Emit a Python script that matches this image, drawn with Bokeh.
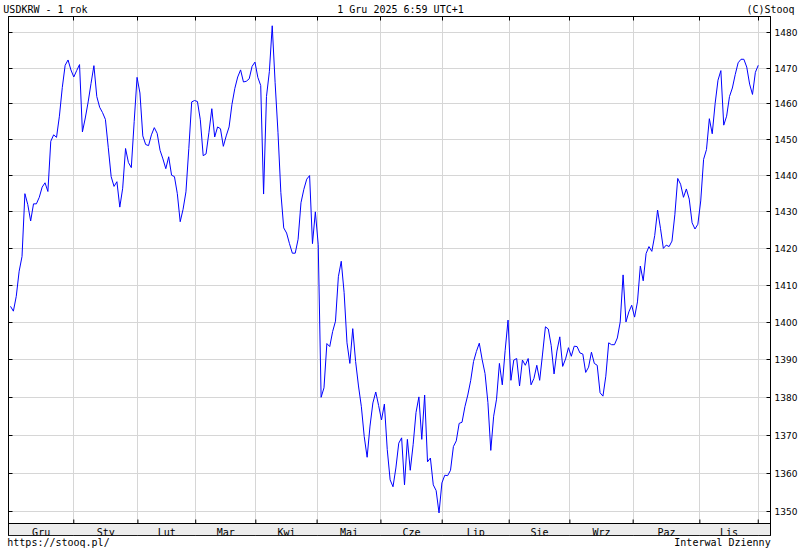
from bokeh.plotting import figure
from bokeh.models import (Range1d, LinearScale, LogAxis, LinearAxis, FixedTicker,
                          PrintfTickFormatter, CustomJSTickFormatter)
from bokeh.core.properties import value
from bokeh.embed import file_html
from bokeh.resources import INLINE

# ---- data (daily USD/KRW close, Dec 2024 - Dec 2025) ----
usdkrw = [
    1404.3, 1403.0, 1407.0, 1413.8, 1417.8, 1435.0, 1432.0, 1427.5, 1432.2, 1432.2,
    1434.0, 1436.8, 1438.0, 1435.6, 1449.5, 1451.3, 1450.6, 1456.5, 1464.5, 1470.8,
    1472.3, 1469.5, 1467.5, 1469.3, 1471.0, 1452.1, 1456.0, 1460.5, 1465.7, 1470.7,
    1462.0, 1459.0, 1457.5, 1455.6, 1447.7, 1439.7, 1437.0, 1438.3, 1431.3, 1436.5,
    1447.5, 1443.6, 1442.2, 1455.0, 1467.4, 1463.0, 1451.0, 1448.6, 1448.3, 1451.3,
    1453.3, 1451.7, 1447.0, 1444.6, 1441.9, 1445.2, 1440.1, 1439.7, 1435.0, 1427.3,
    1430.7, 1435.5, 1447.5, 1460.5, 1460.9, 1460.6, 1455.5, 1445.5, 1446.0, 1452.0,
    1458.6, 1450.7, 1453.5, 1453.0, 1448.1, 1451.0, 1453.5, 1459.8, 1464.3, 1467.5,
    1469.5, 1466.1, 1466.3, 1467.0, 1470.5, 1471.7, 1467.4, 1465.1, 1434.9, 1462.0,
    1469.0, 1482.0, 1466.0, 1452.0, 1435.3, 1425.6, 1424.2, 1421.3, 1418.7, 1418.7,
    1422.5, 1432.5, 1436.2, 1439.0, 1440.0, 1421.3, 1430.0, 1421.0, 1380.0, 1382.5,
    1394.3, 1393.5, 1397.5, 1400.3, 1412.3, 1416.5, 1408.0, 1394.5, 1389.0, 1398.3,
    1389.5, 1383.0, 1377.5, 1369.6, 1364.2, 1372.4, 1378.5, 1381.4, 1377.8, 1374.0,
    1378.2, 1366.2, 1358.3, 1356.5, 1361.4, 1367.9, 1369.3, 1357.0, 1368.9, 1360.8,
    1367.5, 1376.0, 1380.1, 1368.9, 1380.6, 1363.0, 1364.0, 1357.0, 1355.5, 1349.7,
    1357.5, 1359.5, 1359.4, 1360.8, 1367.0, 1368.5, 1373.1, 1373.4, 1377.5, 1380.6,
    1384.4, 1389.5, 1392.2, 1394.4, 1390.0, 1386.3, 1378.6, 1366.0, 1375.0, 1379.5,
    1389.0, 1383.3, 1392.5, 1400.6, 1384.5, 1389.9, 1390.3, 1383.0, 1389.9, 1388.5,
    1390.3, 1383.3, 1385.0, 1388.5, 1384.5, 1391.5, 1398.8, 1398.2, 1393.8, 1386.2,
    1392.3, 1396.1, 1388.2, 1390.2, 1393.2, 1390.9, 1393.6, 1393.5, 1391.8, 1391.5,
    1386.6, 1388.0, 1392.0, 1389.0, 1388.5, 1381.2, 1380.3, 1385.6, 1394.5, 1394.0,
    1394.0, 1395.8, 1400.1, 1412.8, 1400.1, 1402.8, 1404.6, 1401.4, 1405.5, 1415.2,
    1411.2, 1418.6, 1420.5, 1419.2, 1423.5, 1430.5, 1425.5, 1420.0, 1420.9, 1420.5,
    1422.0, 1429.2, 1439.2, 1437.6, 1434.0, 1436.3, 1433.5, 1427.0, 1425.3, 1426.6,
    1433.0, 1444.5, 1447.2, 1455.8, 1451.6, 1460.0, 1466.6, 1469.3, 1454.0, 1456.5,
    1462.0, 1464.4, 1468.2, 1471.5, 1472.5, 1472.5, 1470.3, 1465.5, 1462.6, 1468.8,
    1470.8,
]
day = list(range(len(usdkrw)))  # trading-day index

month_names = ["Gru", "Sty", "Lut", "Mar", "Kwi", "Maj", "Cze", "Lip", "Sie", "Wrz", "Paz", "Lis"]
month_starts = [22.0, 44.3, 64.4, 85.3, 106.6, 128.8, 150.1, 173.4, 194.5, 216.5, 239.7, 260.0]
y_ticks = [1350, 1360, 1370, 1380, 1390, 1400, 1410, 1420, 1430, 1440, 1450, 1460, 1470, 1480]

header_texts = ["USDKRW - 1 rok", "1 Gru 2025 6:59 UTC+1", "(C)Stooq"]
footer_texts = ["https://stooq.pl/", "Interwal Dzienny"]

# ---- layout ----
X0, X1 = -0.7, 264.26
MONO = "DejaVu Sans Mono"
header_pos = [45, 400, 770]     # text centres, page pixels
footer_pos = [58, 722]

p = figure(width=800, height=550, output_backend="svg", toolbar_location=None,
           x_range=Range1d(X0, X1), y_range=Range1d(1343.87, 1484.64),
           y_axis_type="log", x_axis_location="above", y_axis_location="right",
           min_border_left=8, min_border_right=30, min_border_top=16, min_border_bottom=15,
           background_fill_color="white", border_fill_color="white",
           outline_line_color="black", outline_line_width=1, title=None)
p.extra_y_ranges = {"scr": Range1d(535, 16)}
p.extra_y_scales = {"scr": LinearScale()}
p.extra_x_ranges = {"scrx": Range1d(8, 770)}
p.extra_x_scales = {"scrx": LinearScale()}

# top axis: ticks only
top_ax = p.xaxis[0]
top_ax.ticker = FixedTicker(ticks=month_starts)
top_ax.major_tick_in = 4
top_ax.major_tick_out = 0
top_ax.minor_tick_line_color = None
top_ax.major_label_text_font_size = "0px"
top_ax.major_label_standoff = 0
top_ax.formatter = CustomJSTickFormatter(code="return ''")
top_ax.axis_line_color = "black"
top_ax.major_tick_line_color = "black"

# right axis with labels
p.yaxis.ticker = FixedTicker(ticks=y_ticks)
p.yaxis.formatter = PrintfTickFormatter(format="%d")
p.yaxis.major_tick_in = 4
p.yaxis.major_tick_out = 0
p.yaxis.minor_tick_line_color = None
p.yaxis.major_label_standoff = 4
p.yaxis.major_label_text_font = "DejaVu Sans"
p.yaxis.major_label_text_font_size = "9px"
p.yaxis.major_label_text_color = "black"
p.yaxis.axis_line_color = "black"
p.yaxis.major_tick_line_color = "black"

# left axis: ticks only
left_ax = LogAxis(ticker=FixedTicker(ticks=y_ticks), major_tick_in=4, major_tick_out=0,
                  minor_tick_line_color=None, major_label_text_font_size="0px",
                  major_label_standoff=0, formatter=CustomJSTickFormatter(code="return ''"),
                  axis_line_color="black", major_tick_line_color="black")
p.add_layout(left_ax, "left")

# header and footer texts as tick labels of invisible axes
def text_axis(pos, texts, standoff):
    return LinearAxis(x_range_name="scrx", ticker=FixedTicker(ticks=pos),
                      major_label_overrides={k: t for k, t in zip(pos, texts)},
                      axis_line_color=None, major_tick_line_color=None,
                      minor_tick_line_color=None, major_tick_in=0, major_tick_out=0,
                      major_label_standoff=standoff, major_label_text_font=MONO,
                      major_label_text_font_size="10px", major_label_text_color="black")

p.add_layout(text_axis(header_pos, header_texts, 2), "above")
p.add_layout(text_axis(footer_pos, footer_texts, 1), "below")

p.xgrid.grid_line_color = "#d6d6d6"
p.ygrid.grid_line_color = "#d6d6d6"
p.xgrid.grid_line_width = 1
p.ygrid.grid_line_width = 1

# price line
p.line(day, usdkrw, line_color="#0000ff", line_width=1)

# month band at the bottom of the frame
p.quad(left=X0, right=X1, bottom=535, top=523, y_range_name="scr",
       fill_color="#ececec", line_color="black", line_width=1)
n = len(month_starts)
p.segment(x0=month_starts, y0=[523] * n, x1=month_starts, y1=[519] * n,
          y_range_name="scr", line_color="black", line_width=1)
mids = [(a + b) / 2 for a, b in zip([X0] + month_starts[:-1], month_starts)]
p.text(x=mids, y=[532] * len(mids), text=month_names, y_range_name="scr",
       text_align="center", text_baseline="alphabetic",
       text_font=value(MONO), text_font_size="10px", text_color="black")

open("out.html", "w").write(file_html(p, INLINE))
